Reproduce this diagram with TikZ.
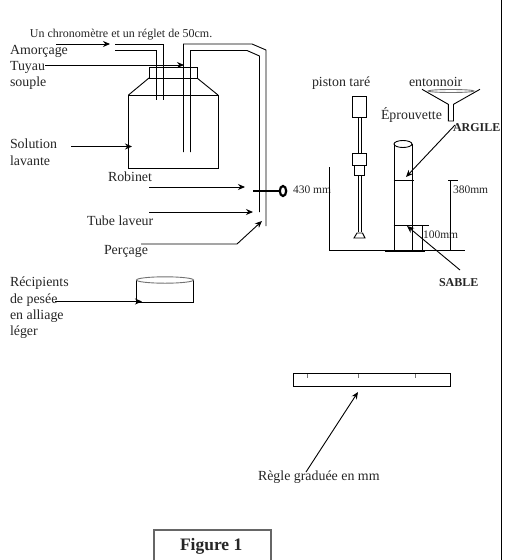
\documentclass[tikz,border=0pt]{standalone}
\usepackage{fontspec}
\setmainfont{Liberation Serif}
\usetikzlibrary{arrows.meta}
\newcommand{\fsz}[1]{\fontsize{#1}{#1}\selectfont}
\tikzset{
  x=1pt,y=-1pt,
  every path/.style={line width=0.9pt,line join=miter},
  lbl/.style={anchor=base west,inner sep=0pt,outer sep=0pt,text=black!85,font=\fsz{13.9}},
  small/.style={lbl,font=\fsz{11.5}},
  smallb/.style={lbl,font=\fsz{12}\bfseries},
  arr/.style={-{Stealth[length=7pt,width=6pt]}},
  grayl/.style={draw=black!55}
}
\begin{document}
\begin{tikzpicture}
\useasboundingbox (0,0) rectangle (512,560);
\fill[white] (0,0) rectangle (512,560);
% labels
\node[lbl,font=\fsz{12}] (chrono) at (30,37) {Un chronomètre et un réglet de 50cm.};
\node[lbl] (amorcage) at (10,54) {Amorçage};
\node[lbl] (tuyau) at (10,70) {Tuyau};
\node[lbl] (souple) at (10,86) {souple};
\node[lbl] (solution) at (10,148) {Solution};
\node[lbl] (lavante) at (10,165) {lavante};
\node[lbl] (robinet) at (108,181) {Robinet};
\node[lbl] (laveur) at (87,225) {Tube laveur};
\node[lbl] (percage) at (104,254) {Perçage};
\node[lbl] (recip) at (10,286) {Récipients};
\node[lbl] (pesee) at (10,303) {de pesée};
\node[lbl] (alliage) at (10,319) {en alliage};
\node[lbl] (leger) at (10,335) {léger};
\node[lbl] (regle) at (258,480) {Règle graduée en mm};
\node[lbl] (piston) at (312,86) {piston taré};
\node[lbl] (entonnoir) at (409,86) {entonnoir};
\node[lbl] (eprouvette) at (381,119) {Éprouvette};
\node[smallb] (argile) at (453,131.5) {ARGILE};
\node[small] (mm430) at (293,193) {430 mm};
\node[small] (mm380) at (453,193) {380mm};
\node[small] (mm100) at (423,238) {100mm};
\node[smallb] (sable) at (439,286) {SABLE};
\node[lbl,font=\fsz{17.5}\bfseries] (fig) at (180,550) {Figure 1};
% border and figure frame
\draw[line width=1pt] (501,0) -- (501,560);
\draw[draw=black!60,line width=1.3pt] (154,561) |- (271,530) -- (271,561);
% bottle
\draw (128.5,95) rectangle (218,168);
\draw (149,67.5) rectangle (197,78);
\draw (149,78) -- (128.5,95) (197,78) -- (218,95);
% short tube
\draw (115,44) -- (163,44) -- (163,100);
\draw (115,50.5) -- (156.5,50.5) -- (156.5,100);
% long tube
\draw (183.5,152) -- (183.5,44) -- (252,44) -- (266,50) -- (266,226);
\draw (190.5,152) -- (190.5,50.5) -- (247,50.5) -- (259.5,56) -- (259.5,212);
% tap
\draw[line width=2.5pt] (253,191) -- (279,191);
\draw[line width=2.2pt] (283,191) ellipse (3.2 and 5);
% arrow ends
\coordinate (a1s) at (56,44); \coordinate (a1e) at (110,44);
\coordinate (a2s) at (45,65); \coordinate (a2e) at (184,65);
\coordinate (a3s) at (71,146.5); \coordinate (a3e) at (132,146.5);
\coordinate (a4s) at (149,187); \coordinate (a4e) at (245,187);
\coordinate (a5s) at (149,212); \coordinate (a5e) at (253,212);
\coordinate (a6s) at (141,244); \coordinate (a6k) at (237,244); \coordinate (a6e) at (262,221);
\coordinate (a7s) at (455,125); \coordinate (a7e) at (406,177);
\coordinate (a8s) at (460,270); \coordinate (a8e) at (407,226);
\coordinate (a9s) at (55,301.5); \coordinate (a9e) at (142,301.5);
\coordinate (a10s) at (306,472); \coordinate (a10e) at (358,392);
\draw[arr] (a1s) -- (a1e);
\draw[arr] (a2s) -- (a2e);
\draw[arr] (a3s) -- (a3e);
\draw[arr] (a4s) -- (a4e);
\draw[arr] (a5s) -- (a5e);
\draw[arr] (a6s) -- (a6k) -- (a6e);
\draw[arr] (a7s) -- (a7e);
\draw[arr] (a8s) -- (a8e);
\draw[arr] (a9s) -- (a9e);
\draw[arr] (a10s) -- (a10e);
% piston
\draw (352.5,96) rectangle (366.5,117);
\draw (358.5,117) -- (358.5,153) (361,117) -- (361,153);
\draw (352.5,153) rectangle (366.5,165);
\draw (354.5,165) rectangle (364,175);
\draw (358.5,175) -- (358.5,232) (361,175) -- (361,232);
\draw (357,233) -- (362.5,233) -- (365,238) -- (354,238) -- cycle;
% stand
\draw (329,167) -- (329,250.5) -- (465,250.5);
\draw[line width=1.6pt] (385,251) -- (425,251);
% cylinder
\draw (394,144) -- (394,250) (412,144) -- (412,250);
\draw (403,144) ellipse (9 and 3.5);
\draw (393.5,180) -- (414,180);
\draw (393.5,225) -- (429,225);
\draw (422,225) -- (422,250);
\draw (448,180) -- (458,180);
\draw (450,180) -- (450,250);
% funnel
\draw (422,89.3) -- (448.3,104.3) -- (448.3,121) -- (453.5,121) -- (453.5,104.3) -- (480,89.3);
\draw[grayl] (451,91) ellipse (23 and 1.5);
% weighing vessel
\draw (136.5,280) -- (136.5,302.5) -- (193.5,302.5) -- (193.5,280);
\draw[grayl] (165,280) ellipse (28.5 and 3.2);
% ruler
\draw (293,373.5) rectangle (450,386.5);
\draw[grayl] (307.5,374) -- (307.5,378) (358,374) -- (358,378) (415,374) -- (415,378);
\end{tikzpicture}
\end{document}
